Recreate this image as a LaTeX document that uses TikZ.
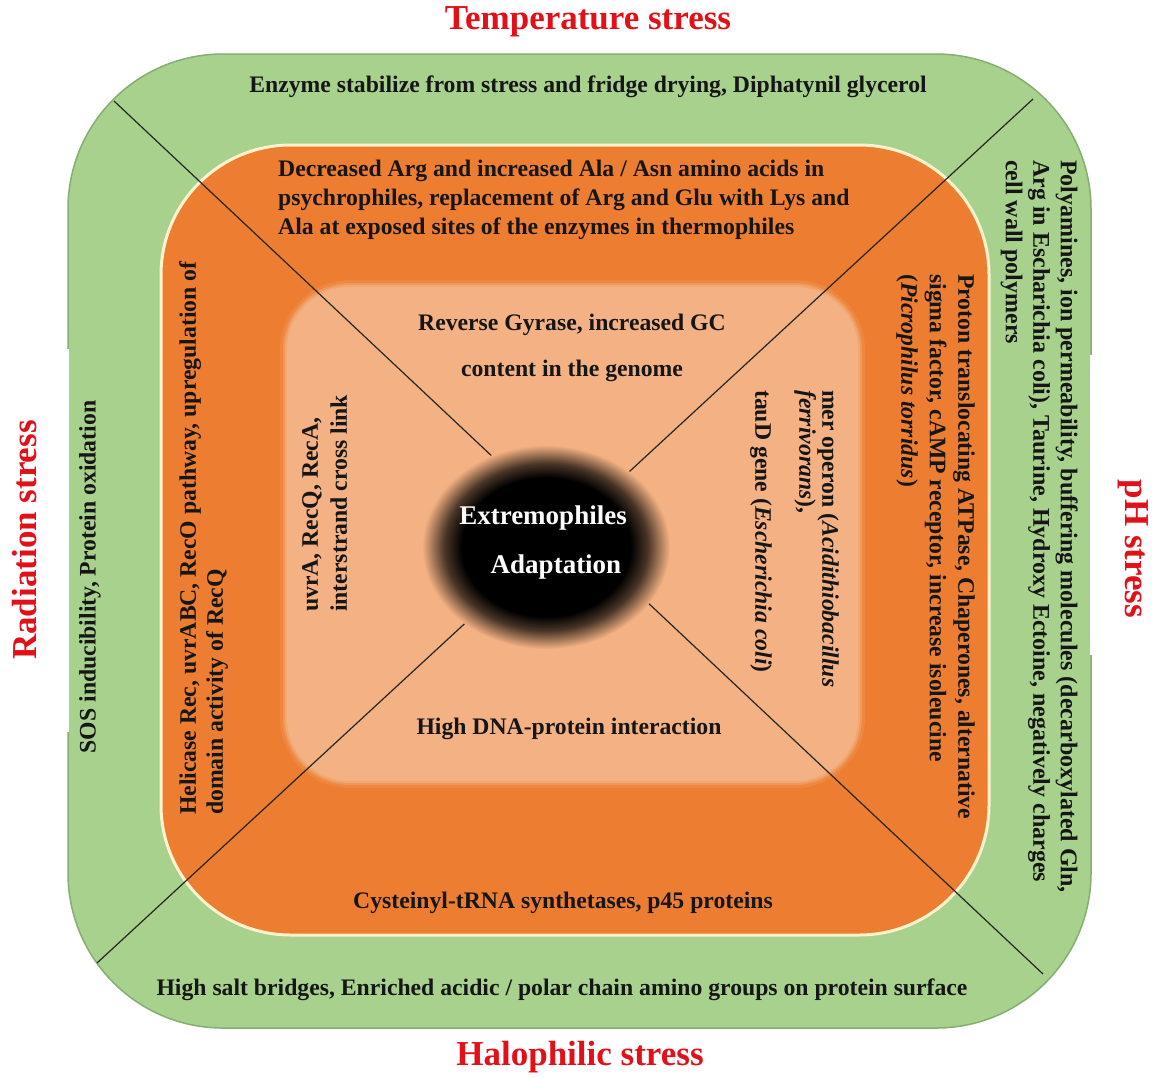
\documentclass[tikz,border=0pt]{standalone}
\usepackage{fontspec}
\setmainfont{Liberation Serif}
\usetikzlibrary{calc}
\definecolor{ringgreen}{HTML}{A9D18E}
\definecolor{ringgreenline}{HTML}{86AD72}
\definecolor{ringorange}{HTML}{ED7D31}
\definecolor{ringcream}{HTML}{FFF2CC}
\definecolor{coresalmon}{HTML}{F4B183}
\definecolor{stressred}{RGB}{226,16,24}
\definecolor{bodytext}{HTML}{161616}
\pgfdeclareradialshading{blobshade}{\pgfpoint{0bp}{0bp}}{%
  color(0bp)=(black); color(17bp)=(black); color(20.5bp)=(black!70!coresalmon);
  color(25bp)=(coresalmon); color(50bp)=(coresalmon)}
\tikzset{
  stresslabel/.style={text=stressred, font=\bfseries\fontsize{35}{35}\selectfont, fill=white, inner sep=0pt},
  bodylabel/.style={text=bodytext, font=\bfseries\fontsize{23.7}{28}\selectfont, inner sep=0pt},
  centrelabel/.style={text=white, font=\bfseries\fontsize{27}{27}\selectfont, inner sep=0pt},
  divider/.style={draw=black!85, line width=1.2pt},
}
\begin{document}
\begin{tikzpicture}[x=1pt,y=-1pt]
  \useasboundingbox (0,0) rectangle (1153,1077);
  \fill[white] (0,0) rectangle (1153,1077);

  % outer ring
  \filldraw[fill=ringgreen, draw=ringgreenline, line width=1.5pt, rounded corners=155pt]
    (68,54) rectangle (1091,1028);
  % middle ring
  \filldraw[fill=ringorange, draw=ringcream, line width=3pt, rounded corners=130pt]
    (161,145) rectangle (989,935);
  % inner square with soft edge
  \fill[ringorange!80!coresalmon, rounded corners=70pt] (280,280) rectangle (865,788);
  \fill[ringorange!50!coresalmon, rounded corners=67pt] (283,283) rectangle (862,785);
  \fill[ringorange!20!coresalmon, rounded corners=65pt] (285,285) rectangle (860,783);
  \fill[coresalmon, rounded corners=63pt] (287,287) rectangle (858,781);

  % diagonal dividers
  \coordinate (tl) at (114,101);
  \coordinate (br) at (1043,974);
  \coordinate (tr) at (1033,99);
  \coordinate (bl) at (97,963);
  \draw[divider] (tl) -- (br);
  \draw[divider] (tr) -- (bl);

  % centre
  \shade[shading=blobshade] (546,547) ellipse [x radius=124pt, y radius=102pt];
  \node[centrelabel] (centre1) at (543,518) {Extremophiles};
  \node[centrelabel] (centre2) at (556,567) {Adaptation};

  % stress labels
  \node[stresslabel, minimum width=320pt, minimum height=40pt] (temp) at (588,22) {Temperature stress};
  \node[stresslabel, minimum width=300pt, minimum height=40pt] (halo) at (580,1057) {Halophilic stress};
  \node[stresslabel, rotate=90, minimum width=383pt, minimum height=88pt] (rad) at (25,540) {Radiation stress};
  \node[stresslabel, rotate=-90, minimum width=300pt, minimum height=86pt] (ph) at (1133,505) {};
  \node[text=stressred, font=\bfseries\fontsize{35}{35}\selectfont, inner sep=0pt, rotate=-90] (phtext) at (1133,549) {pH stress};

  % outer ring texts
  \node[bodylabel] (ot) at (588,87) {Enzyme stabilize from stress and fridge drying, Diphatynil glycerol};
  \node[bodylabel] (ob) at (562,990) {High salt bridges, Enriched acidic / polar chain amino groups on protein surface};
  \node[bodylabel, rotate=90] (ol) at (90,577) {SOS inducibility, Protein oxidation};
  \node[bodylabel, rotate=-90, anchor=north west, align=left, font=\bfseries\fontsize{24}{27.5}\selectfont] (or) at (1078,160)
    {Polyamines, ion permeability, buffering molecules (decarboxylated Gln,\\
     Arg in Escharichia coli), Taurine, Hydroxy Ectoine, negatively charges\\
     cell wall polymers};

  % middle ring texts
  \node[bodylabel, anchor=north west, align=left, font=\bfseries\fontsize{23.7}{29}\selectfont] (mt) at (278,160)
    {Decreased Arg and increased Ala / Asn amino acids in\\
     psychrophiles, replacement of Arg and Glu with Lys and\\
     Ala at exposed sites of the enzymes in thermophiles};
  \node[bodylabel] (mb) at (563,903) {Cysteinyl-tRNA synthetases, p45 proteins};
  \node[bodylabel, rotate=90, anchor=north west, align=left, font=\bfseries\fontsize{23.7}{27}\selectfont] (ml) at (179,815)
    {Helicase Rec, uvrABC, RecO pathway, upregulation of\\
     domain activity of RecQ};
  \node[bodylabel, rotate=-90, anchor=north west, align=left, font=\bfseries\fontsize{23.7}{28.5}\selectfont] (mr) at (975,274)
    {Proton translocating ATPase, Chaperones, alternative\\
     sigma factor, cAMP receptor, increase isoleucine\\
     (\textit{Picrophilus torridus})};

  % inner square texts
  \node[bodylabel, align=center, font=\bfseries\fontsize{23.7}{46}\selectfont] (it) at (572,348)
    {Reverse Gyrase, increased GC\\content in the genome};
  \node[bodylabel] (ib) at (569,729) {High DNA-protein interaction};
  \node[bodylabel, rotate=90, anchor=north west, align=left, font=\bfseries\fontsize{23.7}{29}\selectfont] (il) at (302,612)
    {uvrA, RecQ, RecA,\\interstrand cross link};
  \node[bodylabel, rotate=-90, anchor=north west, align=left, font=\bfseries\fontsize{23.7}{23}\selectfont] (ir) at (839,390)
    {mer operon (\textit{Acidithiobacillus}\\
     \textit{ferrivorans}),\\[21pt]
     tauD gene (\textit{Escherichia coli})};
\end{tikzpicture}
\end{document}
